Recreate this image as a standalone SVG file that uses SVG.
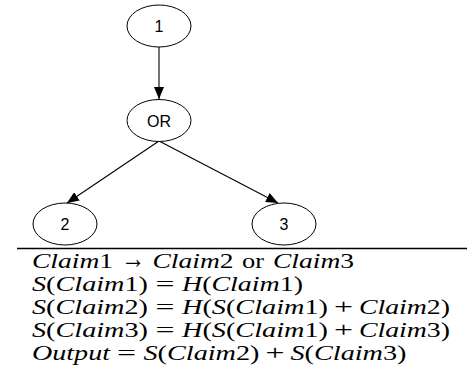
<svg xmlns="http://www.w3.org/2000/svg" width="467" height="388" viewBox="0 0 467 388">
<style>
.node ellipse{fill:#fff;stroke:#000;stroke-width:1}
.edge{stroke:#000;stroke-width:1.1;fill:none}
.it{font-style:italic}
</style>
<defs>
<marker id="ah" markerUnits="userSpaceOnUse" markerWidth="12" markerHeight="10" viewBox="0 0 12 10" refX="12" refY="5" orient="auto">
<path d="M0,0 L12,5 L0,10 Z" fill="#000"/>
</marker>
</defs>
<rect width="467" height="388" fill="#fff"/>
<g id="edges">
<line class="edge" x1="159" y1="47" x2="159" y2="99" marker-end="url(#ah)"/>
<line class="edge" x1="159" y1="141" x2="67" y2="203" marker-end="url(#ah)"/>
<line class="edge" x1="159" y1="141" x2="278" y2="203" marker-end="url(#ah)"/>
</g>
<g font-family="'Liberation Sans', Arial, sans-serif" font-size="16" text-anchor="middle" fill="#000">
<g id="n1" class="node"><ellipse cx="159" cy="26" rx="32" ry="21"/><text x="159" y="32">1</text></g>
<g id="nOR" class="node"><ellipse cx="159" cy="120.5" rx="32" ry="21"/><text x="159" y="126.5">OR</text></g>
<g id="n2" class="node"><ellipse cx="65" cy="224" rx="32" ry="21"/><text x="65" y="230">2</text></g>
<g id="n3" class="node"><ellipse cx="284" cy="224" rx="32" ry="21"/><text x="284" y="230">3</text></g>
</g>
<line x1="17" y1="248.5" x2="467" y2="248.5" stroke="#000" stroke-width="1.3"/>
<g id="formulas" font-family="'Liberation Serif', 'Times New Roman', serif" font-size="21" fill="#000">
<g id="line1">
<text x="32" y="268" textLength="81" lengthAdjust="spacingAndGlyphs"><tspan class="it">Claim</tspan>1</text>
<text x="121" y="268" font-size="28" textLength="24" lengthAdjust="spacingAndGlyphs">→</text>
<text x="152.5" y="268" textLength="81" lengthAdjust="spacingAndGlyphs"><tspan class="it">Claim</tspan>2</text>
<text x="242" y="268" textLength="22" lengthAdjust="spacingAndGlyphs">or</text>
<text x="273" y="268" textLength="81" lengthAdjust="spacingAndGlyphs"><tspan class="it">Claim</tspan>3</text>
</g>
<g id="line2">
<text x="32" y="291" textLength="116" lengthAdjust="spacingAndGlyphs"><tspan class="it">S</tspan>(<tspan class="it">Claim</tspan>1)</text>
<text x="155.5" y="291" textLength="19" lengthAdjust="spacingAndGlyphs">=</text>
<text x="182" y="291" textLength="121" lengthAdjust="spacingAndGlyphs"><tspan class="it">H</tspan>(<tspan class="it">Claim</tspan>1)</text>
</g>
<g id="line3">
<text x="32" y="314" textLength="116" lengthAdjust="spacingAndGlyphs"><tspan class="it">S</tspan>(<tspan class="it">Claim</tspan>2)</text>
<text x="155.5" y="314" textLength="19" lengthAdjust="spacingAndGlyphs">=</text>
<text x="182" y="314" textLength="146" lengthAdjust="spacingAndGlyphs"><tspan class="it">H</tspan>(<tspan class="it">S</tspan>(<tspan class="it">Claim</tspan>1)</text>
<text x="334" y="314" textLength="19" lengthAdjust="spacingAndGlyphs">+</text>
<text x="359" y="314" textLength="91" lengthAdjust="spacingAndGlyphs"><tspan class="it">Claim</tspan>2)</text>
</g>
<g id="line4">
<text x="32" y="337" textLength="116" lengthAdjust="spacingAndGlyphs"><tspan class="it">S</tspan>(<tspan class="it">Claim</tspan>3)</text>
<text x="155.5" y="337" textLength="19" lengthAdjust="spacingAndGlyphs">=</text>
<text x="182" y="337" textLength="146" lengthAdjust="spacingAndGlyphs"><tspan class="it">H</tspan>(<tspan class="it">S</tspan>(<tspan class="it">Claim</tspan>1)</text>
<text x="334" y="337" textLength="19" lengthAdjust="spacingAndGlyphs">+</text>
<text x="359" y="337" textLength="91" lengthAdjust="spacingAndGlyphs"><tspan class="it">Claim</tspan>3)</text>
</g>
<g id="line5">
<text x="32" y="360" textLength="78" lengthAdjust="spacingAndGlyphs"><tspan class="it">Output</tspan></text>
<text x="117" y="360" textLength="19" lengthAdjust="spacingAndGlyphs">=</text>
<text x="143.5" y="360" textLength="116" lengthAdjust="spacingAndGlyphs"><tspan class="it">S</tspan>(<tspan class="it">Claim</tspan>2)</text>
<text x="265.5" y="360" textLength="19" lengthAdjust="spacingAndGlyphs">+</text>
<text x="290.5" y="360" textLength="116" lengthAdjust="spacingAndGlyphs"><tspan class="it">S</tspan>(<tspan class="it">Claim</tspan>3)</text>
</g>
</g>
</svg>
